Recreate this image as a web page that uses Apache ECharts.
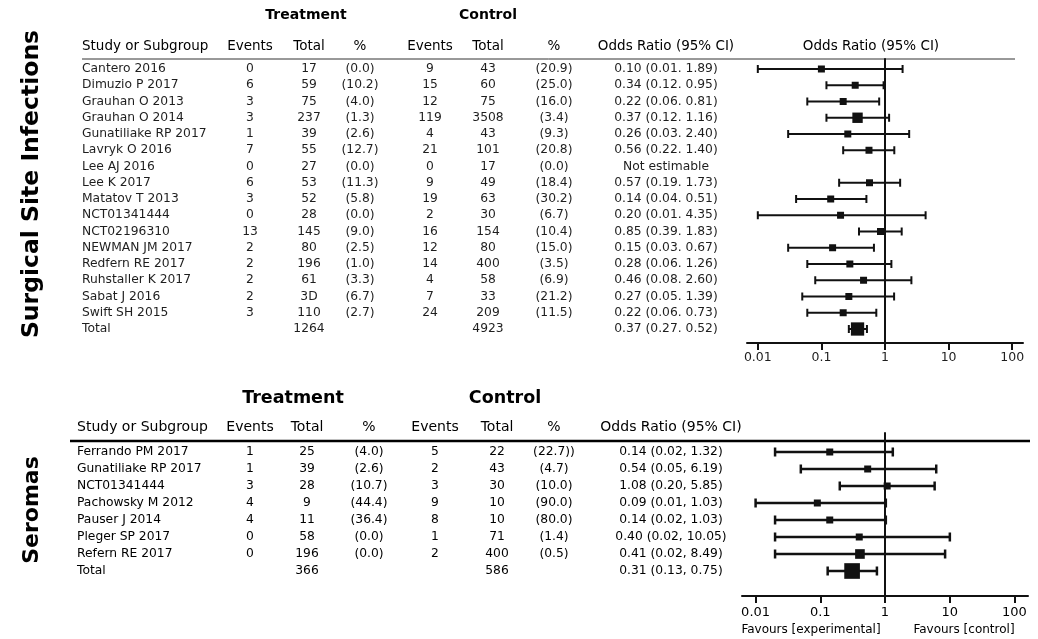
<!DOCTYPE html>
<html>
<head>
<meta charset="utf-8">
<title>Forest plots</title>
<script src="https://cdn.jsdelivr.net/npm/echarts@6/dist/echarts.min.js"></script>
<style>
  html, body { margin: 0; padding: 0; background: #fff; }
  #chart { width: 1038px; height: 639px; }
</style>
</head>
<body>
<div id="chart"></div>
<script>
// surgical site infections
const siStudies = ['Cantero 2016', 'Dimuzio P 2017', 'Grauhan O 2013', 'Grauhan O 2014', 'Gunatiliake RP 2017',
  'Lavryk O 2016', 'Lee AJ 2016', 'Lee K 2017', 'Matatov T 2013', 'NCT01341444', 'NCT02196310',
  'NEWMAN JM 2017', 'Redfern RE 2017', 'Ruhstaller K 2017', 'Sabat J 2016', 'Swift SH 2015', 'Total'];
const siTrtEvents = ['0', '6', '3', '3', '1', '7', '0', '6', '3', '0', '13', '2', '2', '2', '2', '3', ''];
const siTrtTotal = ['17', '59', '75', '237', '39', '55', '27', '53', '52', '28', '145', '80', '196', '61', '3D', '110', '1264'];
const siTrtPct = ['(0.0)', '(10.2)', '(4.0)', '(1.3)', '(2.6)', '(12.7)', '(0.0)', '(11.3)', '(5.8)', '(0.0)', '(9.0)',
  '(2.5)', '(1.0)', '(3.3)', '(6.7)', '(2.7)', ''];
const siCtrlEvents = ['9', '15', '12', '119', '4', '21', '0', '9', '19', '2', '16', '12', '14', '4', '7', '24', ''];
const siCtrlTotal = ['43', '60', '75', '3508', '43', '101', '17', '49', '63', '30', '154', '80', '400', '58', '33', '209', '4923'];
const siCtrlPct = ['(20.9)', '(25.0)', '(16.0)', '(3.4)', '(9.3)', '(20.8)', '(0.0)', '(18.4)', '(30.2)', '(6.7)', '(10.4)',
  '(15.0)', '(3.5)', '(6.9)', '(21.2)', '(11.5)', ''];
const siOR = [0.10, 0.34, 0.22, 0.37, 0.26, 0.56, null, 0.57, 0.14, 0.20, 0.85, 0.15, 0.28, 0.46, 0.27, 0.22, 0.37];
const siLo = [0.01, 0.12, 0.06, 0.12, 0.03, 0.22, null, 0.19, 0.04, 0.01, 0.39, 0.03, 0.06, 0.08, 0.05, 0.06, 0.27];
const siHi = [1.89, 0.95, 0.81, 1.16, 2.40, 1.40, null, 1.73, 0.51, 4.35, 1.83, 0.67, 1.26, 2.60, 1.39, 0.73, 0.52];
// relative box weight (square area)
const siWeight = [1, 1, 1, 2.2, 1, 1, 0, 1, 1, 1, 1, 1, 1, 1, 1, 1, 3.6];

// seromas
const seStudies = ['Ferrando PM 2017', 'Gunatiliake RP 2017', 'NCT01341444', 'Pachowsky M 2012', 'Pauser J 2014',
  'Pleger SP 2017', 'Refern RE 2017', 'Total'];
const seTrtEvents = ['1', '1', '3', '4', '4', '0', '0', ''];
const seTrtTotal = ['25', '39', '28', '9', '11', '58', '196', '366'];
const seTrtPct = ['(4.0)', '(2.6)', '(10.7)', '(44.4)', '(36.4)', '(0.0)', '(0.0)', ''];
const seCtrlEvents = ['5', '2', '3', '9', '8', '1', '2', ''];
const seCtrlTotal = ['22', '43', '30', '10', '10', '71', '400', '586'];
const seCtrlPct = ['(22.7))', '(4.7)', '(10.0)', '(90.0)', '(80.0)', '(1.4)', '(0.5)', ''];
const seOR = [0.14, 0.54, 1.08, 0.09, 0.14, 0.40, 0.41, 0.31];
const seLo = [0.02, 0.05, 0.20, 0.01, 0.02, 0.02, 0.02, 0.13];
const seHi = [1.32, 6.19, 5.85, 1.03, 1.03, 10.05, 8.49, 0.75];
const seWeight = [1, 1, 1, 1, 1, 1, 1.9, 5];

const axisTicks = [0.01, 0.1, 1, 10, 100];
const colHeads = ['Study or Subgroup', 'Events', 'Total', '%', 'Events', 'Total', '%', 'Odds Ratio (95% CI)'];

const FONT = '"DejaVu Sans", "Liberation Sans", sans-serif';

// layout of the two panels (pixels)
const P1 = {
  row0: 69, step: 16.25, tableTop: 0, plotTop: 59, axisY: 343,
  headY: 15, colHeadY: 46, plotLeft: 747, plotWidth: 276, xExt: 2.17,
  cols: [82, 250, 309, 360, 430, 488, 554, 666], headX: [306, 488], plotHeadX: 871,
  sep: '. ', color: '#1e1e1e', fontSize: 12.3, headSize: 13.5, groupSize: 14,
  lineW: 2, cap: 4, box: 7, tickSize: 12.5, tickMargin: 8
};
const P2 = {
  row0: 452, step: 17, tableTop: 380, plotTop: 433, axisY: 596,
  headY: 398, colHeadY: 427, plotLeft: 742, plotWidth: 286, xExt: 2.21,
  cols: [77, 250, 307, 369, 435, 497, 554, 671], headX: [293, 505], plotHeadX: null,
  sep: ', ', color: '#000', fontSize: 12.3, headSize: 14, groupSize: 17.5,
  lineW: 2.5, cap: 4.5, box: 7, tickSize: 13, tickMargin: 10
};

const toRow = (p, px) => (px - p.row0) / p.step;

function orText(or, lo, hi, sep) {
  return or.map((v, i) => v == null ? 'Not estimable'
    : v.toFixed(2) + ' (' + lo[i].toFixed(2) + sep + hi[i].toFixed(2) + ')');
}

function textSeries(axisIdx, x, ys, texts, opt) {
  const data = [];
  texts.forEach((t, i) => { if (t !== '') data.push({ value: [x, ys[i]], name: t }); });
  return {
    type: 'scatter', xAxisIndex: axisIdx, yAxisIndex: axisIdx,
    symbolSize: 0, silent: true, animation: false, data: data,
    itemStyle: { opacity: 1 },
    label: {
      show: true, position: [0, 0], formatter: p => p.name, opacity: 1,
      align: opt.align || 'center', verticalAlign: 'middle',
      fontFamily: FONT, fontSize: opt.size, fontWeight: opt.weight || 'normal', color: opt.color
    }
  };
}

function makeRender(p) {
  return function (params, api) {
    const row = api.value(0);
    const a = api.coord([api.value(1), row]);
    const b = api.coord([api.value(2), row]);
    const c = api.coord([api.value(3), row]);
    const s = p.box * Math.sqrt(api.value(4));
    const st = { stroke: '#111', lineWidth: p.lineW };
    return {
      type: 'group',
      children: [
        { type: 'line', shape: { x1: a[0], y1: a[1], x2: b[0], y2: b[1] }, style: st },
        { type: 'line', shape: { x1: a[0], y1: a[1] - p.cap, x2: a[0], y2: a[1] + p.cap }, style: st },
        { type: 'line', shape: { x1: b[0], y1: b[1] - p.cap, x2: b[0], y2: b[1] + p.cap }, style: st },
        { type: 'rect', shape: { x: c[0] - s / 2, y: c[1] - s / 2, width: s, height: s }, style: { fill: '#111' } }
      ]
    };
  };
}

const grids = [], xAxes = [], yAxes = [], series = [];

function addPanel(p, d) {
  const tIdx = grids.length;
  // table grid: x in page pixels, y in rows
  grids.push({ left: 0, width: 1038, top: p.tableTop, height: p.axisY - p.tableTop });
  xAxes.push({ type: 'value', gridIndex: tIdx, min: 0, max: 1038, show: false });
  yAxes.push({ type: 'value', gridIndex: tIdx, inverse: true, show: false,
    min: toRow(p, p.tableTop), max: toRow(p, p.axisY) });

  const rows = d.studies.map((s, i) => i);
  const cells = [d.studies, d.te, d.tt, d.tp, d.ce, d.ct, d.cp, orText(d.or, d.lo, d.hi, p.sep)];
  cells.forEach((col, k) => {
    series.push(textSeries(tIdx, p.cols[k], rows, col,
      { align: k === 0 ? 'left' : 'center', size: p.fontSize, color: p.color }));
  });
  const hy = toRow(p, p.colHeadY);
  colHeads.forEach((h, k) => {
    series.push(textSeries(tIdx, p.cols[k], [hy], [h],
      { align: k === 0 ? 'left' : 'center', size: p.headSize, color: '#000' }));
  });
  if (p.plotHeadX) {
    series.push(textSeries(tIdx, p.plotHeadX, [hy], ['Odds Ratio (95% CI)'], { size: p.headSize, color: '#000' }));
  }
  const gy = toRow(p, p.headY);
  series.push(textSeries(tIdx, p.headX[0], [gy], ['Treatment'], { size: p.groupSize, weight: 'bold', color: '#000' }));
  series.push(textSeries(tIdx, p.headX[1], [gy], ['Control'], { size: p.groupSize, weight: 'bold', color: '#000' }));

  // forest plot grid: x = log10(odds ratio)
  const pIdx = grids.length;
  grids.push({ left: p.plotLeft, width: p.plotWidth, top: p.plotTop, height: p.axisY - p.plotTop });
  const tickVals = axisTicks.map(v => Math.log10(v));
  xAxes.push({
    type: 'value', gridIndex: pIdx, min: -p.xExt, max: p.xExt,
    axisLine: { onZero: false, lineStyle: { color: '#111', width: 2 } },
    axisTick: { show: true, length: 7, customValues: tickVals, lineStyle: { color: '#111', width: 2 } },
    axisLabel: {
      customValues: tickVals, margin: p.tickMargin, color: p.color,
      fontFamily: FONT, fontSize: p.tickSize,
      formatter: v => String(+Math.pow(10, v).toPrecision(6))
    },
    splitLine: { show: false }
  });
  yAxes.push({
    type: 'value', gridIndex: pIdx, inverse: true,
    min: toRow(p, p.plotTop), max: toRow(p, p.axisY),
    axisLine: { show: true, onZero: true, lineStyle: { color: '#111', width: 2 } },
    axisTick: { show: false }, axisLabel: { show: false }, splitLine: { show: false }
  });
  const ci = [];
  d.or.forEach((v, i) => {
    if (v != null) ci.push([i, Math.log10(d.lo[i]), Math.log10(d.hi[i]), Math.log10(v), d.w[i]]);
  });
  series.push({
    type: 'custom', xAxisIndex: pIdx, yAxisIndex: pIdx, silent: true, animation: false,
    renderItem: makeRender(p), encode: { x: [1, 2, 3], y: 0 }, data: ci, z: 3
  });
}

addPanel(P1, { studies: siStudies, te: siTrtEvents, tt: siTrtTotal, tp: siTrtPct, ce: siCtrlEvents,
  ct: siCtrlTotal, cp: siCtrlPct, or: siOR, lo: siLo, hi: siHi, w: siWeight });
addPanel(P2, { studies: seStudies, te: seTrtEvents, tt: seTrtTotal, tp: seTrtPct, ce: seCtrlEvents,
  ct: seCtrlTotal, cp: seCtrlPct, or: seOR, lo: seLo, hi: seHi, w: seWeight });

const chart = echarts.init(document.getElementById('chart'));
chart.setOption({
  backgroundColor: '#fff',
  animation: false,
  grid: grids,
  xAxis: xAxes,
  yAxis: yAxes,
  series: series,
  graphic: [
    { type: 'text', x: 32, y: 184, rotation: Math.PI / 2,
      style: { text: 'Surgical Site Infections', font: 'bold 23.5px ' + FONT, fill: '#000',
        align: 'center', verticalAlign: 'middle', textAlign: 'center', textVerticalAlign: 'middle' } },
    { type: 'text', x: 32, y: 510, rotation: Math.PI / 2,
      style: { text: 'Seromas', font: 'bold 22px ' + FONT, fill: '#000',
        align: 'center', verticalAlign: 'middle', textAlign: 'center', textVerticalAlign: 'middle' } },
    { type: 'line', shape: { x1: 82, y1: 59, x2: 1015, y2: 59 }, style: { stroke: '#333', lineWidth: 1 } },
    { type: 'line', shape: { x1: 70, y1: 441, x2: 1030, y2: 441 }, style: { stroke: '#000', lineWidth: 2.5 } },
    { type: 'text', x: 811, y: 630,
      style: { text: 'Favours [experimental]', font: '12px ' + FONT, fill: '#000',
        align: 'center', verticalAlign: 'middle', textAlign: 'center', textVerticalAlign: 'middle' } },
    { type: 'text', x: 964, y: 630,
      style: { text: 'Favours [control]', font: '12px ' + FONT, fill: '#000',
        align: 'center', verticalAlign: 'middle', textAlign: 'center', textVerticalAlign: 'middle' } }
  ]
});
</script>
</body>
</html>
